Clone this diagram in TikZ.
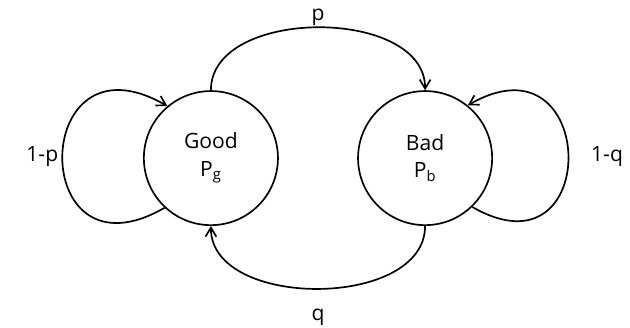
\documentclass[tikz,border=0pt]{standalone}
\usepackage{fontspec}
\setmainfont{Open Sans}
\usetikzlibrary{arrows.meta}

\begin{document}
\begin{tikzpicture}[
		mstate/.style={draw, circle, line width=1.6pt, minimum size=4.47cm, inner sep=0pt, align=center, font=\fontsize{20}{26}\selectfont},
		arr/.style={-{Straight Barb[length=3mm,width=3.6mm]}, line width=1.6pt},
		lbl/.style={font=\fontsize{20}{24}\selectfont}]
	\useasboundingbox (0,0) rectangle (21,-10.9);
	\node[mstate] (good) at (7.03,-5.27) {Good\\ P\textsubscript{g}};
	\node[mstate] (bad) at (14.17,-5.27) {Bad\\ P\textsubscript{b}};
	\draw[arr] (good.north) to[out=90, in=90] node[lbl, above, inner sep=1pt] {p} (bad.north);
	\draw[arr] (bad.south) to[out=-90, in=-90] node[lbl, below=0.55cm] {q} (good.south);
	\draw[arr] (good.227) to[out=210, in=150, looseness=4] node[lbl, left] {1-p} (good.130);
	\draw[arr] (bad.314) to[out=-30, in=30, looseness=3.8] node[lbl, right=0.62cm] {1-q} (bad.51);
\end{tikzpicture}
\end{document}
